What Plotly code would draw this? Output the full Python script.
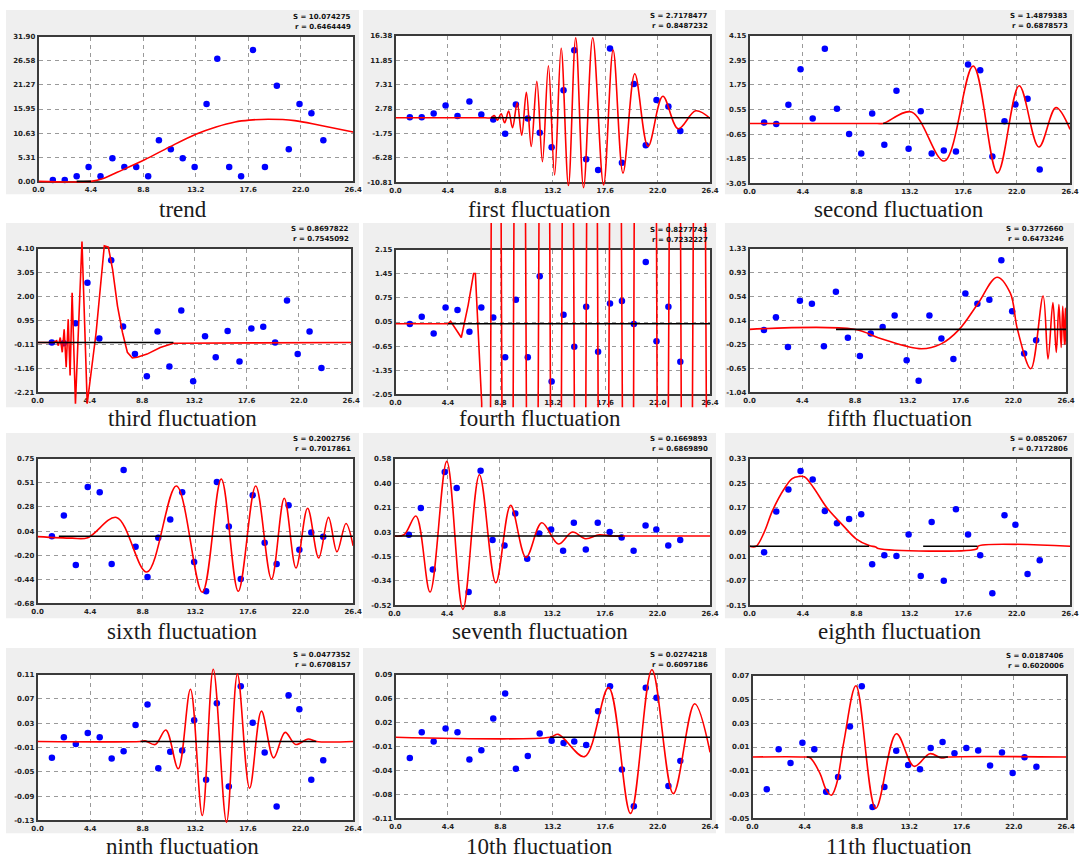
import numpy as np
import plotly.graph_objects as go

W, H = 1083, 863

# ---------------- data ----------------
X_POINTS = [1.2, 2.2, 3.2, 4.2, 5.2, 6.2, 7.2, 8.2, 9.2, 10.1, 11.1, 12.1,
            13.1, 14.1, 15.0, 16.0, 17.0, 18.0, 19.0, 20.0, 21.0, 21.9, 22.9, 23.9]
X_TICKS = [0.0, 4.4, 8.8, 13.2, 17.6, 22.0, 26.4]
X_TICK_TEXT = ["0.0", "4.4", "8.8", "13.2", "17.6", "22.0", "26.4"]

TITLES = ["trend", "first fluctuation", "second fluctuation", "third fluctuation",
          "fourth fluctuation", "fifth fluctuation", "sixth fluctuation",
          "seventh fluctuation", "eighth fluctuation", "ninth fluctuation",
          "10th fluctuation", "11th fluctuation"]
S_TEXT = ["S = 10.074275", "S = 2.7178477", "S = 1.4879383", "S = 0.8697822",
          "S = 0.8277743", "S = 0.3772660", "S = 0.2002756", "S = 0.1669893",
          "S = 0.0852067", "S = 0.0477352", "S = 0.0274218", "S = 0.0187406"]
R_TEXT = ["r = 0.6464449", "r = 0.8487232", "r = 0.6878573", "r = 0.7545092",
          "r = 0.7232227", "r = 0.6473246", "r = 0.7017861", "r = 0.6869890",
          "r = 0.7172806", "r = 0.6708157", "r = 0.6097186", "r = 0.6020006"]

Y_LIMITS = [(0.0, 31.90), (-10.81, 16.38), (-3.05, 4.15), (-2.21, 4.10),
            (-2.05, 2.15), (-1.04, 1.33), (-0.68, 0.75), (-0.52, 0.58),
            (-0.15, 0.33), (-0.13, 0.11), (-0.11, 0.09), (-0.05, 0.07)]
Y_TICK_TEXT = [
    ["0.00", "5.31", "10.63", "15.95", "21.27", "26.58", "31.90"],
    ["-10.81", "-6.28", "-1.75", "2.78", "7.31", "11.85", "16.38"],
    ["-3.05", "-1.85", "-0.65", "0.55", "1.75", "2.95", "4.15"],
    ["-2.21", "-1.16", "-0.11", "0.95", "2.00", "3.05", "4.10"],
    ["-2.05", "-1.35", "-0.65", "0.05", "0.75", "1.45", "2.15"],
    ["-1.04", "-0.65", "-0.25", "0.14", "0.54", "0.93", "1.33"],
    ["-0.68", "-0.44", "-0.20", "0.04", "0.28", "0.51", "0.75"],
    ["-0.52", "-0.34", "-0.15", "0.03", "0.21", "0.40", "0.58"],
    ["-0.15", "-0.07", "0.01", "0.09", "0.17", "0.25", "0.33"],
    ["-0.13", "-0.09", "-0.05", "-0.01", "0.03", "0.07", "0.11"],
    ["-0.11", "-0.08", "-0.04", "-0.01", "0.02", "0.06", "0.09"],
    ["-0.05", "-0.03", "-0.01", "0.01", "0.03", "0.05", "0.07"],
]

PTS_1 = [0.29, 0.29, 1.10, 3.14, 1.10, 5.11, 3.14, 3.14, 1.10, 9.05, 7.08, 5.11,
         3.14, 17.08, 27.01, 3.14, 1.10, 28.98, 3.14, 21.10, 7.08, 17.08, 15.04, 9.05]
PTS_2 = [1.28, 1.28, 1.96, 3.43, 1.47, 4.17, 1.77, 0.85, -1.79, 3.61, 1.04, -1.60,
         -4.30, 6.25, 13.68, -6.51, -8.54, 13.99, -7.19, 7.42, -3.94, 4.47, 3.25, -1.30]
PTS_3 = [-0.08, -0.16, 0.78, 2.51, 0.11, 3.51, 0.59, -0.64, -1.60, 0.35, -1.17, 1.47,
         -1.37, 0.46, -1.60, -1.45, -1.50, 2.75, 2.46, -1.74, -0.02, 0.80, 1.08, -2.38]
PTS_4 = [-0.02, -0.05, 0.83, 2.60, 0.16, 3.59, 0.68, -0.53, -1.50, 0.46, -1.07, 1.39,
         -1.72, 0.26, -0.67, 0.48, -0.85, 0.59, 0.67, -0.02, 1.82, -0.53, 0.46, -1.14]
PTS_5 = [-0.01, 0.20, -0.28, 0.47, 0.40, -0.23, 0.47, 0.18, -0.97, 0.70, -0.97, 1.38,
         -1.68, 0.26, -0.67, 0.49, -0.81, 0.59, 0.66, -0.01, 1.79, -0.51, 0.49, -1.10]
PTS_6 = [-0.01, 0.20, -0.29, 0.47, 0.42, -0.28, 0.62, -0.14, -0.44, -0.07, 0.04, 0.23,
         -0.51, -0.85, 0.23, -0.15, -0.49, 0.59, 0.42, 0.49, 1.14, 0.30, -0.40, -0.18]
PTS_7 = [-0.016, 0.19, -0.30, 0.47, 0.42, -0.29, 0.64, -0.12, -0.42, -0.03, 0.15, 0.42,
         -0.27, -0.56, 0.52, 0.08, -0.44, 0.39, -0.08, -0.29, 0.29, -0.15, 0.02, -0.02]
PTS_8 = [0.01, 0.21, -0.25, 0.48, 0.36, -0.42, 0.49, -0.03, -0.07, 0.17, -0.17, 0.02,
         0.05, -0.11, 0.10, -0.10, 0.10, 0.03, -0.01, -0.11, 0.08, 0.05, -0.07, -0.03]
PTS_9 = [0.024, 0.157, 0.229, 0.290, 0.262, 0.159, 0.119, 0.133, 0.148, -0.015, 0.014, 0.012,
         0.082, -0.054, 0.123, -0.069, 0.165, 0.082, 0.014, -0.110, 0.145, 0.114, -0.047, -0.002]
PTS_10 = [-0.027, 0.007, -0.004, 0.014, 0.007, -0.028, -0.016, 0.027, 0.061, -0.044, -0.017, -0.015,
          0.035, -0.063, 0.063, -0.074, 0.091, 0.031, -0.018, -0.107, 0.076, 0.053, -0.063, -0.031]
PTS_11 = [-0.026, 0.010, -0.003, 0.015, 0.010, -0.028, -0.015, 0.029, 0.064, -0.041, -0.023, 0.008,
          -0.002, -0.005, -0.003, -0.008, 0.039, 0.074, -0.042, -0.093, 0.072, 0.058, -0.065, -0.030]
PTS_12 = [-0.0254, 0.0081, -0.0034, 0.0136, 0.0081, -0.0277, -0.0151, 0.0273, 0.0611, -0.0405, -0.0235, 0.0069,
          -0.0051, -0.0087, 0.0092, 0.0142, 0.0047, 0.0092, 0.0072, -0.0056, 0.0055, -0.0118, 0.0014, -0.0065]

RED_X_1 = [0, 4.4, 5.5, 6.6, 8.9, 11.0, 13.2, 14.9, 16.5, 17.7, 19.3, 21.5, 23.7, 26.4]
RED_Y_1 = [0, 0, 0.7, 2.0, 4.75, 7.6, 10.4, 12.0, 13.1, 13.5, 13.7, 13.4, 12.3, 10.9]
RED_X_2 = [0, 7.5, 8.0, 8.28, 8.55, 8.86, 9.16, 9.49, 9.82, 10.21, 10.59, 10.98, 11.39, 11.86, 12.33,
           12.83, 13.35, 13.90, 14.51, 15.12, 15.78, 16.55, 17.46, 18.26, 19.09, 20.08, 21.19,
           22.43, 23.72, 25.19, 26.4]
RED_Y_2 = [1.16, 1.16, 1.16, 1.59, 0.73, 1.90, 0.24, 2.39, -0.68, 3.92, -2.09, 5.89, -4.18, 7.91, -7.0,
           10.8, -9.46, 14.05, -11.4, 16.0, -11.8, 16.0, -11.3, 13.7, -9.1, 9.32, -4.18,
           5.15, -0.87, 2.45, 1.04]
RED_X_3 = [0, 10.5, 11.0, 13.34, 16.04, 18.42, 20.42, 22.21, 23.83, 25.24, 26.4]
RED_Y_3 = [-0.13, -0.13, -0.13, 0.43, -1.96, 2.67, -2.55, 1.71, -1.28, 0.64, -0.42]
RED_X_4 = [0, 1.33, 1.61, 1.75, 1.91, 2.08, 2.24, 2.41, 2.58, 2.74, 2.91, 3.19, 3.74, 4.18, 4.93,
           5.62, 5.96, 6.32, 6.73, 7.15, 7.56, 7.98, 8.39, 9.22, 10.33, 11.44, 26.4]
RED_Y_4 = [-0.02, -0.02, 0.06, -0.16, 0.20, -0.45, 0.56, -1.11, 1.00, -1.47, 2.17, -2.71, 4.42, -2.71, 0.42,
           4.23, 4.17, 3.18, 1.58, 0.42, -0.45, -0.70, -0.67, -0.53, -0.24, -0.05, -0.02]
RED_X_5 = [0, 4.4, 4.62, 5.52, 6.1, 6.55, 6.7, 7.23, 7.6, 8.4, 9.4, 10.4, 11.5, 12.5, 13.45, 14.45,
           15.5, 16.5, 17.45, 18.4, 19.6, 20.4, 21.5, 22.36, 23.5, 24.4, 25.5, 26.6]
RED_Y_5 = [0, 0, 0.07, -0.40, 0.55, 1.46, 1.46, -2.3, -40, 40, -40, 40, -40, 40, -40, 40,
           -40, 40, -40, 40, -40, 40, 40, -40, 40, -40, 40, -40]
RED_X_6 = [0, 8.72, 11.05, 14.34, 15.98, 17.49, 19.0, 20.64, 21.74, 22.34, 23.46, 24.48, 24.89,
           25.30, 25.58, 25.80, 25.99, 26.12, 26.26, 26.34, 26.4]
RED_Y_6 = [0, 0, -0.16, -0.32, -0.24, 0.0, 0.41, 0.86, 0.60, 0.0, -0.65, 0.55, -0.49,
           0.44, -0.38, 0.41, -0.30, 0.38, -0.25, 0.35, -0.25]
RED_X_7 = [0, 2.9, 4.2, 6.6, 9.14, 11.61, 13.78, 15.37, 16.79, 18.25, 19.57, 20.64, 21.62, 22.59,
           23.52, 24.34, 25.05, 25.8, 26.4]
RED_Y_7 = [-0.02, -0.035, -0.03, 0.17, -0.37, 0.48, -0.57, 0.55, -0.56, 0.48, -0.44, 0.36, -0.33, 0.26,
           -0.23, 0.17, -0.17, 0.11, -0.11]
RED_X_8 = [0, 0.8, 1.79, 2.97, 4.37, 5.72, 7.10, 8.47, 9.71, 11.0, 12.32, 13.7, 14.88, 15.98, 17.13,
           18.2, 19.1, 26.4]
RED_Y_8 = [0, 0.01, 0.15, -0.42, 0.56, -0.55, 0.46, -0.35, 0.23, -0.16, 0.10, -0.06, 0.03, -0.02, 0.01,
           0.0, 0.0, 0.0]
RED_X_9 = [0, 0.54, 1.21, 1.89, 2.83, 3.51, 4.05, 4.51, 5.26, 6.34, 7.69, 8.77, 9.85, 10.39, 10.6,
           18.76, 18.8, 26.4]
RED_Y_9 = [0.0435, 0.0435, 0.090, 0.160, 0.230, 0.265, 0.272, 0.271, 0.236, 0.171, 0.112, 0.068, 0.046,
           0.041, 0.036, 0.036, 0.0435, 0.0435]
RED_X_10 = [0, 8.61, 9.0, 9.85, 10.73, 11.77, 12.79, 13.78, 14.7, 15.81, 16.72, 17.74, 18.73, 19.75,
            20.71, 21.59, 22.63, 23.32, 26.4]
RED_Y_10 = [0, 0, 0.001, -0.005, 0.019, -0.045, 0.086, -0.122, 0.119, -0.133, 0.111, -0.077, 0.050, -0.027,
            0.015, -0.005, 0.004, 0, 0]
RED_X_11 = [0, 12.97, 13.66, 15.86, 17.88, 19.72, 21.52, 23.31, 25.1, 26.4]
RED_Y_11 = [0.003, 0.003, 0.007, -0.024, 0.072, -0.103, 0.097, -0.0755, 0.0496, -0.018]
RED_X_12 = [0, 4.28, 4.84, 5.67, 6.2, 6.64, 7.05, 7.7, 8.71, 10.37, 12.11, 13.6, 14.93, 15.9, 16.45, 26.4]
RED_Y_12 = [0.0016, 0.0016, 0.001, -0.012, -0.026, -0.0305, -0.022, 0.015, 0.0616, -0.0416, 0.0212,
            -0.0062, 0.0044, 0.0008, 0.0016, 0.0016]

BLACK_LEVEL = [0.0, 1.16, -0.13, -0.02, 0.0, 0.0, -0.016, 0.0, 0.0435, 0.0, 0.003, 0.0016]
BLACK_SPANS = [[(3.2, 4.4)], [(8.0, 26.4)], [(11.0, 26.4)], [(0, 11.44)], [(4.41, 26.4)],
               [(7.21, 26.4)], [(1.78, 26.4)], [(0, 19.1)], [(0, 9.85), (14.3, 18.76)],
               [(8.61, 23.32)], [(12.97, 26.4)], [(4.56, 16.45)]]

PTS = [PTS_1, PTS_2, PTS_3, PTS_4, PTS_5, PTS_6, PTS_7, PTS_8, PTS_9, PTS_10, PTS_11, PTS_12]
RED_X = [RED_X_1, RED_X_2, RED_X_3, RED_X_4, RED_X_5, RED_X_6, RED_X_7, RED_X_8, RED_X_9,
         RED_X_10, RED_X_11, RED_X_12]
RED_Y = [RED_Y_1, RED_Y_2, RED_Y_3, RED_Y_4, RED_Y_5, RED_Y_6, RED_Y_7, RED_Y_8, RED_Y_9,
         RED_Y_10, RED_Y_11, RED_Y_12]
LINE_SHAPE = ["spline", "spline", "spline", "linear", "linear", "spline",
              "spline", "spline", "spline", "spline", "spline", "spline"]

# ---------------- layout geometry (pixels) ----------------
PLOT_BOX = [(33, 33, 352, 179), (395, 32, 714, 180), (754, 32, 1079, 181),
            (32, 247, 350, 392), (395, 248, 714, 394), (754, 247, 1075, 392),
            (32, 459, 352, 605), (394, 459, 714, 607), (754, 459, 1079, 607),
            (32, 677, 352, 824), (395, 677, 714, 822), (757, 678, 1075, 822)]
GRAY_BOX = [(0, 6, 358, 192), (362, 6, 720, 192), (729, 6, 1083, 192),
            (0, 221, 358, 407), (362, 221, 720, 407), (729, 221, 1083, 407),
            (0, 433, 358, 620), (362, 433, 720, 620), (729, 433, 1083, 620),
            (0, 650, 358, 837), (362, 650, 720, 837), (729, 650, 1083, 837)]
TITLE_Y = [207, 207, 207, 418, 418, 418, 633, 633, 633, 850, 850, 850]

fig = go.Figure()
layout = dict(width=W, height=H, margin=dict(l=0, r=0, t=0, b=0),
              paper_bgcolor="white", plot_bgcolor="rgba(0,0,0,0)",
              showlegend=False, shapes=[], annotations=[])


def px_x(p):
    return p / W


def px_y(p):
    return 1 - p / H


tickfont = dict(family="DejaVu Sans", size=7, color="#222", weight="bold")

# main subplots first (frames, grids, data points)
for i in range(12):
    n = i + 1
    L, T, R, B = PLOT_BOX[i]
    gl, gt, gr, gb = GRAY_BOX[i]
    ymin, ymax = Y_LIMITS[i]

    layout["shapes"].append(dict(type="rect", xref="paper", yref="paper",
                                 x0=px_x(gl), x1=px_x(gr), y0=px_y(gb), y1=px_y(gt),
                                 fillcolor="#efefef", line=dict(width=0), layer="below"))
    layout["shapes"].append(dict(type="rect", xref="paper", yref="paper",
                                 x0=px_x(L), x1=px_x(R), y0=px_y(B), y1=px_y(T),
                                 fillcolor="white", line=dict(width=0), layer="below"))

    layout[f"xaxis{n}"] = dict(domain=[px_x(L), px_x(R)], range=[0, 26.4], anchor=f"y{n}",
                               tickmode="array", tickvals=X_TICKS, ticktext=X_TICK_TEXT,
                               showgrid=True, gridcolor="#9a9a9a", griddash="4px,4px", gridwidth=1,
                               showline=True, mirror=True, linecolor="#3a3a3a", linewidth=1.6,
                               zeroline=False, ticks="", tickfont=tickfont, fixedrange=True)
    yt = list(np.linspace(ymin, ymax, 7))
    layout[f"yaxis{n}"] = dict(domain=[px_y(B), px_y(T)], range=[ymin, ymax], anchor=f"x{n}",
                               tickmode="array", tickvals=yt, ticktext=Y_TICK_TEXT[i],
                               showgrid=True, gridcolor="#9a9a9a", griddash="4px,4px", gridwidth=1,
                               showline=True, mirror=True, linecolor="#3a3a3a", linewidth=1.6,
                               zeroline=False, ticks="", tickfont=tickfont, fixedrange=True)

    fig.add_trace(go.Scatter(x=X_POINTS, y=PTS[i], mode="markers",
                             marker=dict(color="#0000ff", size=6.5, symbol="circle"),
                             xaxis=f"x{n}", yaxis=f"y{n}", cliponaxis=False))

    layout["annotations"].append(dict(text=TITLES[i], xref="paper", yref="paper",
                                      x=px_x((gl + gr) / 2), y=px_y(TITLE_Y[i]),
                                      xanchor="center", yanchor="middle", showarrow=False,
                                      font=dict(family="Liberation Serif", size=23, color="#1a1a1a")))
    for txt, dy in ((S_TEXT[i], 20), (R_TEXT[i], 10)):
        layout["annotations"].append(dict(text=txt, xref="paper", yref="paper",
                                          x=px_x(R), y=px_y(T - dy),
                                          xanchor="right", yanchor="middle", showarrow=False,
                                          font=dict(family="DejaVu Sans", size=7, color="#111",
                                                    weight="bold")))

# overlay subplots (same scales, clip area = grey panel) for the curves
for i in range(12):
    m = i + 13
    L, T, R, B = PLOT_BOX[i]
    gl, gt, gr, gb = GRAY_BOX[i]
    ymin, ymax = Y_LIMITS[i]
    k = (ymax - ymin) / (B - T)
    ext_lo = ymin - (gb - B) * k
    ext_hi = ymax + (T - gt) * k
    layout[f"xaxis{m}"] = dict(domain=[px_x(L), px_x(R)], range=[0, 26.4], anchor=f"y{m}",
                               visible=False, fixedrange=True)
    layout[f"yaxis{m}"] = dict(domain=[px_y(gb), px_y(gt)], range=[ext_lo, ext_hi], anchor=f"x{m}",
                               visible=False, fixedrange=True)

    fig.add_trace(go.Scatter(x=RED_X[i], y=RED_Y[i], mode="lines",
                             line=dict(color="#ff0000", width=1.6, shape=LINE_SHAPE[i], smoothing=1.0),
                             xaxis=f"x{m}", yaxis=f"y{m}", hoverinfo="skip"))
    bx, by = [], []
    for (a, b) in BLACK_SPANS[i]:
        bx += [a, b, None]
        by += [BLACK_LEVEL[i], BLACK_LEVEL[i], None]
    fig.add_trace(go.Scatter(x=bx, y=by, mode="lines", line=dict(color="#000000", width=1.6),
                             xaxis=f"x{m}", yaxis=f"y{m}", hoverinfo="skip"))

fig.update_layout(**layout)
fig.write_html("out.html")
